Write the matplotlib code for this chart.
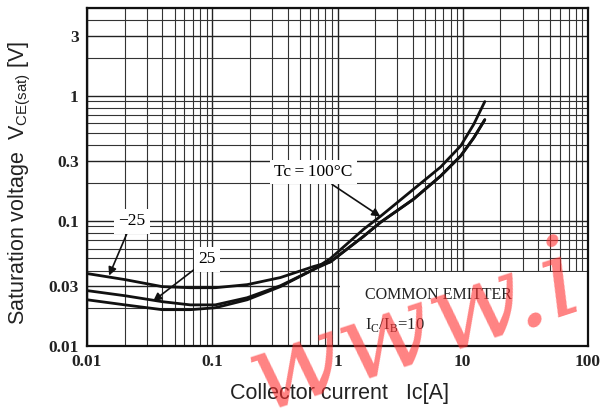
import matplotlib
matplotlib.use('Agg')
import matplotlib.pyplot as plt
from matplotlib.patches import Rectangle
from matplotlib.ticker import LogLocator, NullFormatter

plt.rcParams['mathtext.fontset'] = 'custom'
plt.rcParams['mathtext.rm'] = 'Liberation Serif'
plt.rcParams['mathtext.sf'] = 'Liberation Sans'

# Ic [A], VCE(sat) [V]
ic_m25 = [0.01, 0.0201, 0.0398, 0.0667, 0.1057, 0.19, 0.35, 0.643, 0.879, 1.614,
          2.208, 4.055, 6.668, 9.64, 12.25, 15.0]
vce_m25 = [0.0379, 0.0339, 0.0298, 0.0292, 0.0292, 0.0309, 0.0352, 0.0431, 0.047, 0.0751,
           0.0973, 0.149, 0.228, 0.330, 0.46, 0.641]

ic_25 = [0.01, 0.0201, 0.0398, 0.0667, 0.1057, 0.19, 0.35, 0.643, 0.879, 1.614,
         2.208, 4.055, 6.668, 9.64, 12.25, 15.0]
vce_25 = [0.0277, 0.0252, 0.0226, 0.0213, 0.0213, 0.0243, 0.0303, 0.0408, 0.047, 0.0751,
          0.0973, 0.149, 0.228, 0.330, 0.46, 0.641]

ic_100 = [0.01, 0.0201, 0.0398, 0.0667, 0.1057, 0.19, 0.35, 0.643, 0.879, 1.614,
          2.208, 4.055, 6.668, 9.64, 12.25, 15.0]
vce_100 = [0.0234, 0.0213, 0.0195, 0.0195, 0.0202, 0.0234, 0.0298, 0.0408, 0.050, 0.0855,
           0.1087, 0.179, 0.269, 0.397, 0.59, 0.895]

x_ticks = [0.01, 0.1, 1, 10, 100]
x_labels = ['0.01', '0.1', '1', '10', '100']
y_ticks = [0.01, 0.03, 0.1, 0.3, 1, 3]
y_labels = ['0.01', '0.03', '0.1', '0.3', '1', '3']

fig = plt.figure(figsize=(6.03, 4.12), dpi=100)
ax = fig.add_axes([87/603, 66/412, 501/603, 338/412])
ax.set_xscale('log')
ax.set_yscale('log')
ax.set_xlim(0.01, 100)
ax.set_ylim(0.01, 5)

ax.set_xticks(x_ticks)
ax.set_xticklabels(x_labels)
ax.set_yticks(y_ticks)
ax.set_yticklabels(y_labels)
ax.xaxis.set_minor_locator(LogLocator(base=10, subs=range(2, 10)))
ax.yaxis.set_minor_locator(LogLocator(base=10, subs=range(2, 10)))
ax.xaxis.set_minor_formatter(NullFormatter())
ax.yaxis.set_minor_formatter(NullFormatter())
ax.tick_params(which='both', length=0, pad=6)
for lab in ax.get_xticklabels() + ax.get_yticklabels():
    lab.set_family('Liberation Serif')
    lab.set_fontweight('bold')
    lab.set_fontsize(12.5)
    lab.set_color('#222222')

ax.grid(which='major', color='#222222', lw=1.0)
ax.grid(which='minor', color='#333333', lw=0.8)
ax.set_axisbelow(True)
for s in ax.spines.values():
    s.set_linewidth(1.6)
    s.set_color('#111111')

for xs, ys in [(ic_m25, vce_m25), (ic_25, vce_25), (ic_100, vce_100)]:
    ax.plot(xs, ys, color='#111111', lw=2.0, zorder=3, solid_capstyle='round')

# white box for the condition note
ax.add_patch(Rectangle((0.505, 0), 0.495, 0.219, transform=ax.transAxes,
                       facecolor='white', edgecolor='none', zorder=2))
ax.text(0.555, 0.151, 'COMMON EMITTER', transform=ax.transAxes, family='Liberation Serif',
        fontsize=11.5, va='center', ha='left', zorder=4, color='#222222')
ax.text(0.555, 0.062, r'I$_\mathrm{C}$/I$_\mathrm{B}$=10', transform=ax.transAxes,
        family='Liberation Serif', fontsize=12, va='center', ha='left', zorder=4, color='#222222')

arrow = dict(arrowstyle='-|>', color='#111111', lw=1.2, shrinkA=0, shrinkB=0,
             mutation_scale=12)
box = dict(boxstyle='square,pad=0.25', facecolor='white', edgecolor='none')
ax.annotate('\u221225', xy=(0.015, 0.0365), xytext=(0.0229, 0.099), fontsize=12.5,
            family='Liberation Serif', ha='center', va='center', bbox=box,
            arrowprops=arrow, zorder=5)
ax.annotate('25', xy=(0.0337, 0.0228), xytext=(0.0912, 0.0491), fontsize=12.5,
            family='Liberation Serif', ha='center', va='center', bbox=box,
            arrowprops=arrow, zorder=5)
ax.annotate('Tc\u2009=\u2009100\u00b0C', xy=(2.2, 0.108), xytext=(0.643, 0.245), fontsize=12.5,
            family='Liberation Serif', ha='center', va='center', bbox=box,
            arrowprops=arrow, zorder=5)

fig.text(340/603, 1 - 393/412, 'Collector current   Ic[A]', family='Liberation Sans',
         fontsize=15.5, ha='center', va='center', color='#222222')
fig.text(20/603, 1 - 183/412, r'Saturation voltage  V$_{\mathsf{CE(sat)}}$ [V]',
         family='Liberation Sans', fontsize=15.5, rotation=90, ha='center', va='center',
         color='#222222')

# watermark
fig.text(415/603, 1 - 330/412, 'www.i', family='DejaVu Serif', style='italic',
         fontsize=80, color='#ff3030', alpha=0.6, rotation=18, ha='center', va='center')

fig.savefig('out.png', dpi=100)
